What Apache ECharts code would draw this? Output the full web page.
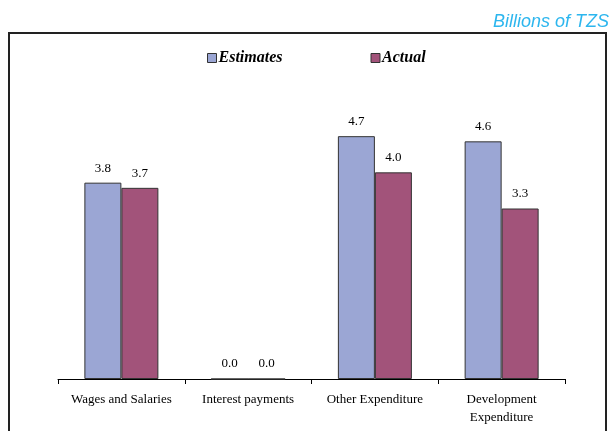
<!DOCTYPE html>
<html>
<head>
<meta charset="utf-8">
<script src="https://cdn.jsdelivr.net/npm/echarts@6/dist/echarts.min.js"></script>
<style>
html, body { margin: 0; padding: 0; background: #fff; }
#chart { width: 609px; height: 431px; }
</style>
</head>
<body>
<div id="chart"></div>
<script>
// 数据
var categories = ['Wages and Salaries', 'Interest payments', 'Other Expenditure', 'Development\nExpenditure'];
var estimates = [3.8, 0.0, 4.7, 4.6];
var actual = [3.7, 0.0, 4.0, 3.3];

var chart = echarts.init(document.getElementById('chart'));
var serif = '"Liberation Serif", "DejaVu Serif", serif';

var labelStyle = {
    show: true,
    position: 'top',
    distance: 8,
    fontFamily: serif,
    fontSize: 13,
    color: '#000',
    formatter: function (p) { return p.value.toFixed(1); }
};

var option = {
    backgroundColor: '#fff',
    animation: false,
    graphic: [{
        type: 'rect',
        shape: { x: 9, y: 33, width: 597, height: 420 },
        style: { fill: 'none', stroke: '#222', lineWidth: 2 }
    }, {
        type: 'text',
        left: 493,
        top: 13,
        style: {
            text: 'Billions of TZS',
            fontFamily: '"Liberation Sans", Arial, sans-serif',
            fontStyle: 'italic',
            fontSize: 18,
            fill: '#2DB6EE'
        }
    }],
    legend: {
        top: 45,
        left: 202,
        icon: 'rect',
        itemWidth: 9,
        itemHeight: 9,
        itemGap: 88,
        textStyle: {
            fontFamily: serif,
            fontStyle: 'italic',
            fontWeight: 'bold',
            fontSize: 16,
            color: '#000',
            padding: [0, 0, 0, -3]
        },
        data: [
            { name: 'Estimates', itemStyle: { borderColor: '#333', borderWidth: 1 } },
            { name: 'Actual', itemStyle: { borderColor: '#333', borderWidth: 1 } }
        ]
    },
    grid: { left: 58, right: 44, top: 69, bottom: 52 },
    xAxis: {
        type: 'category',
        data: categories,
        axisLine: { lineStyle: { color: '#000', width: 1 } },
        axisTick: { show: true, length: 5, lineStyle: { color: '#000' } },
        axisLabel: {
            interval: 0,
            margin: 12,
            fontFamily: serif,
            fontSize: 13,
            lineHeight: 18,
            color: '#000'
        }
    },
    yAxis: {
        type: 'value',
        min: 0,
        max: 6,
        show: false,
        splitLine: { show: false }
    },
    series: [{
        name: 'Estimates',
        type: 'bar',
        data: estimates,
        barWidth: 37,
        barGap: '0%',
        itemStyle: { color: '#9BA6D4', borderColor: '#333', borderWidth: 1 },
        label: labelStyle
    }, {
        name: 'Actual',
        type: 'bar',
        data: actual,
        barWidth: 37,
        itemStyle: { color: '#A2537A', borderColor: '#333', borderWidth: 1 },
        label: labelStyle
    }]
};
chart.setOption(option);
</script>
</body>
</html>
